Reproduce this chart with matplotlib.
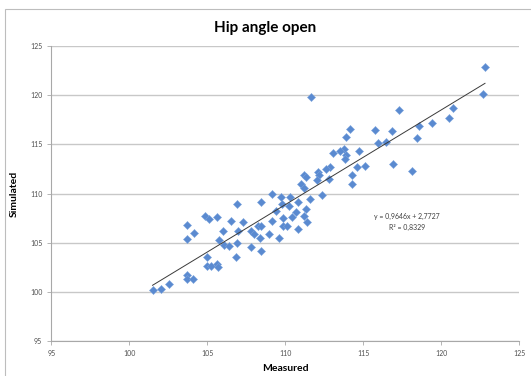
import numpy as np
import matplotlib
matplotlib.use("Agg")
import matplotlib.pyplot as plt
from matplotlib.patches import Rectangle

plt.rcParams['font.family'] = ['Lato', 'DejaVu Sans']

# measured / simulated hip angle
measured = [101.49, 102.02, 102.54, 103.68, 103.68, 104.07, 103.68, 103.68, 104.13, 104.87,
            105.08, 105.61, 104.98, 105.01, 105.26, 105.65, 105.67, 105.78, 106.01, 106.09,
            106.36, 106.53, 106.82, 106.88, 106.97, 106.89, 107.27, 107.82, 107.79, 107.99,
            108.24, 108.46, 108.41, 108.36, 108.42, 108.97, 109.17, 109.16, 109.58, 109.40,
            109.74, 109.76, 109.87, 109.87, 110.11, 110.24, 110.33, 110.41, 110.67, 110.80,
            110.83, 111.03, 111.18, 111.17, 111.42, 111.31, 111.56, 111.23, 111.65, 122.80,
            122.67, 120.78, 120.48, 119.38, 118.56, 118.41, 117.29, 116.82, 116.44, 115.96,
            115.75, 116.88, 118.11, 114.13, 113.86, 114.74, 113.74, 113.49, 113.08, 113.91,
            113.83, 115.13, 114.58, 114.26, 114.26, 112.85, 112.61, 112.11, 112.18, 112.82,
            112.01, 111.33, 112.37]
simulated = [100.20, 100.27, 100.80, 101.74, 101.33, 101.29, 106.80, 105.34, 106.00, 107.76,
             107.41, 107.60, 103.52, 102.66, 102.60, 102.81, 102.58, 105.31, 106.23, 104.76,
             104.62, 107.26, 103.50, 108.94, 106.20, 104.98, 107.10, 106.20, 104.55, 105.87,
             106.73, 106.68, 109.18, 105.44, 104.16, 105.90, 107.26, 109.93, 105.51, 108.28,
             109.67, 108.99, 107.55, 106.71, 106.66, 108.73, 109.62, 107.59, 108.12, 106.36,
             109.16, 111.02, 110.56, 107.68, 107.10, 108.47, 109.49, 111.85, 119.83, 122.91,
             120.15, 118.68, 117.65, 117.17, 116.89, 115.67, 118.52, 116.38, 115.29, 115.16,
             116.44, 112.97, 112.30, 116.59, 115.72, 114.30, 114.59, 114.37, 114.18, 113.91,
             113.55, 112.86, 112.68, 111.94, 111.00, 112.70, 112.48, 112.22, 111.87, 111.53,
             111.34, 111.73, 109.86]

slope = 0.9646
intercept = 2.7727
r2 = 0.8329

fig = plt.figure(figsize=(5.31, 3.76), dpi=100)
ax = fig.add_axes([0.0966, 0.0931, 0.8814, 0.7839])

# outer chart border like Excel
fig.add_artist(Rectangle((0.0094, -0.05), 1.2, 1.026, transform=fig.transFigure,
                         fill=False, edgecolor='#bdbdbd', linewidth=0.8))

ax.plot(measured, simulated, linestyle='none', marker='D', markersize=4.4,
        markerfacecolor='#5a8ad0', markeredgecolor='#7aa3dc', markeredgewidth=0.4, zorder=3)

xs = np.array([min(measured), max(measured)])
ax.plot(xs, slope * xs + intercept, color='#3a3a3a', linewidth=0.7, zorder=4)

eq = 'y = {:.4f}x + {:.4f}'.format(slope, intercept).replace('.', ',')
r2_txt = 'R² = {:.4f}'.format(r2).replace('.', ',')
ax.text(117.8, 107.7, eq, fontsize=5, color='#404040', ha='center', va='center')
ax.text(117.8, 106.6, r2_txt, fontsize=5, color='#404040', ha='center', va='center')

ax.set_xlim(95, 125)
ax.set_ylim(95, 125)
ax.set_xticks(np.arange(95, 126, 5))
ax.set_yticks(np.arange(95, 126, 5))
ax.grid(axis='y', color='#c8c8c8', linewidth=1.0)
ax.set_axisbelow(True)
for s in ['top', 'right']:
    ax.spines[s].set_visible(False)
for s in ['left', 'bottom']:
    ax.spines[s].set_color('#a8a8a8')
    ax.spines[s].set_linewidth(0.8)
ax.tick_params(labelsize=5, colors='#a8a8a8', labelcolor='#505050', length=3, width=0.6)

ax.set_xlabel('Measured', fontsize=7.5, fontweight='bold', labelpad=5)
ax.set_ylabel('Simulated', fontsize=7.5, fontweight='bold', labelpad=8)
fig.text(0.499, 0.926, 'Hip angle open', fontsize=11, fontweight='bold', ha='center', va='center')

fig.savefig('out.png', dpi=100)
